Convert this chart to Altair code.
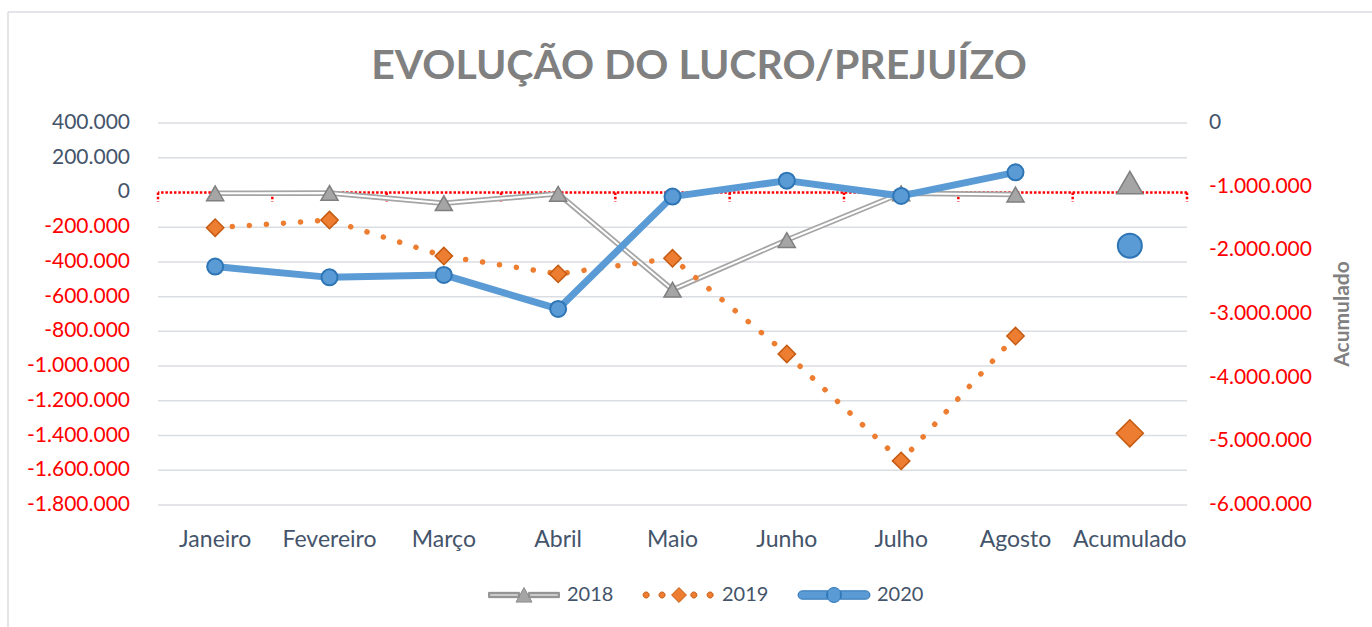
import altair as alt
import pandas as pd
import numpy as np

# ---------------- data ----------------
meses = ["Janeiro", "Fevereiro", "Março", "Abril", "Maio", "Junho", "Julho", "Agosto"]
categorias = meses + ["Acumulado"]
series = ["2018", "2019", "2020"]

lucro_2018 = [-5000, -3000, -62000, -8000, -560000, -274000, -5000, -12000]
lucro_2019 = [-203000, -159000, -366000, -469000, -379000, -930000, -1546000, -827000]
lucro_2020 = [-427000, -489000, -475000, -671000, -24000, 68000, -20000, 116000]
acumulado = [-935000, -4874000, -1927000]   # 2018, 2019, 2020 (right axis)

ticks_esq = [-1800000, -1600000, -1400000, -1200000, -1000000, -800000, -600000,
             -400000, -200000, 0, 200000, 400000]
rotulos_esq = ["-1.800.000", "-1.600.000", "-1.400.000", "-1.200.000", "-1.000.000",
               "-800.000", "-600.000", "-400.000", "-200.000", "0", "200.000", "400.000"]
ticks_dir = [-6000000, -5000000, -4000000, -3000000, -2000000, -1000000, 0]
rotulos_dir = ["-6.000.000", "-5.000.000", "-4.000.000", "-3.000.000", "-2.000.000",
               "-1.000.000", "0"]

titulo = "EVOLUÇÃO DO LUCRO/PREJUÍZO"
titulo_dir = "Acumulado"

df_mes = pd.DataFrame({
    "cat": meses * 3,
    "serie": np.repeat(series, len(meses)),
    "valor": lucro_2018 + lucro_2019 + lucro_2020,
})
df_acum = pd.DataFrame({"cat": ["Acumulado"] * 3, "serie": series, "valor": acumulado})
df_leg = pd.DataFrame({"serie": series})
df_cat = pd.DataFrame({"cat": categorias})
df_one = pd.DataFrame({"cat": ["Acumulado"]})
df_tl = pd.DataFrame({"v": ticks_esq, "lab": rotulos_esq})
df_tr = pd.DataFrame({"v": ticks_dir, "lab": rotulos_dir})

# ---------------- style ----------------
FONT = "Lato"
SLATE = "#44546A"
RED = "#FF0000"
GRID = "#DADDE2"
W, H = 1029, 382
PAD = {"left": 158, "top": 123, "right": 1372 - 158 - W, "bottom": 627 - 123 - H}
STEP = W / len(categorias)

xscale = alt.Scale(type="band", domain=categorias, paddingInner=0, paddingOuter=0)
yscale_l = alt.Scale(domain=[-1800000, 400000], nice=False, zero=False)
yscale_r = alt.Scale(domain=[-6000000, 0], nice=False, zero=False)


def xenc():
    return alt.X("cat:N", scale=xscale, bandPosition=0.5, axis=None, title=None)


def yl(field="valor"):
    return alt.Y(f"{field}:Q", scale=yscale_l, axis=None, title=None)


def yr(field="valor"):
    return alt.Y(f"{field}:Q", scale=yscale_r, axis=None, title=None)


neg_red = alt.condition("datum.v < 0", alt.value(RED), alt.value(SLATE))

# ---------------- guides drawn from the tick arrays ----------------
grid = alt.Chart(df_tl).transform_filter("datum.v != 0").mark_rule(
    color=GRID, strokeWidth=1.5).encode(y=yl("v"))
lab_l = alt.Chart(df_tl).mark_text(align="right", baseline="middle", font=FONT,
                                   fontSize=21).encode(
    x=alt.value(-28), y=yl("v"), text="lab:N", color=neg_red)
lab_x = alt.Chart(df_cat).mark_text(align="center", baseline="middle", font=FONT,
                                    fontSize=23, color=SLATE).encode(
    x=xenc(), y=alt.value(H + 35), text="cat:N")
title_mark = alt.Chart(df_one).mark_text(align="center", baseline="alphabetic", font=FONT,
                                         fontSize=41, fontWeight="bold", color="#808080").encode(
    x=alt.value(699 - PAD["left"]), y=alt.value(79 - PAD["top"]), text=alt.value(titulo))
border_v = alt.Chart(df_one).mark_rule(color=GRID, strokeWidth=1.5).encode(
    x=alt.value(8 - PAD["left"]), y=alt.value(12 - PAD["top"]), y2=alt.value(H + 140))
border_h = alt.Chart(df_one).mark_rule(color=GRID, strokeWidth=1.5).encode(
    x=alt.value(8 - PAD["left"]), x2=alt.value(W + 240), y=alt.value(12 - PAD["top"]))

zero_line = alt.Chart(df_one).mark_rule(color=RED, strokeWidth=2.5,
                                        strokeDash=[2.5, 1.8]).encode(
    y=alt.Y(datum=0, type="quantitative", scale=yscale_l, axis=None))
zero_ticks = alt.Chart(df_cat).mark_rule(color=RED, strokeWidth=2.5, strokeDash=[2.5, 1.8],
                                         xOffset=-STEP / 2, y2Offset=9).encode(
    x=xenc(), y=alt.Y(datum=0, type="quantitative", scale=yscale_l, axis=None),
    y2=alt.datum(0))
zero_tick_end = alt.Chart(df_one).mark_rule(color=RED, strokeWidth=2.5, strokeDash=[2.5, 1.8],
                                            xOffset=STEP / 2, y2Offset=9).encode(
    x=xenc(), y=alt.Y(datum=0, type="quantitative", scale=yscale_l, axis=None),
    y2=alt.datum(0))

# ---------------- series ----------------
base_m = alt.Chart(df_mes)


def serie(s):
    return base_m.transform_filter(alt.datum.serie == s)


l18a = serie("2018").mark_line(color="#A5A5A5", strokeWidth=5.5).encode(x=xenc(), y=yl())
l18b = serie("2018").mark_line(color="white", strokeWidth=2).encode(x=xenc(), y=yl())
p18 = serie("2018").mark_point(shape="triangle-up", filled=True, fill="#A5A5A5",
                               stroke="#7F7F7F", strokeWidth=1.5, size=290, opacity=1
                               ).encode(x=xenc(), y=yl())
l19 = serie("2019").mark_line(color="#ED7D31", strokeWidth=5.5, strokeDash=[0.1, 17],
                              strokeCap="round").encode(x=xenc(), y=yl())
p19 = serie("2019").mark_point(shape="diamond", filled=True, fill="#ED7D31",
                               stroke="#C55A11", strokeWidth=1.5, size=300, opacity=1
                               ).encode(x=xenc(), y=yl())
l20 = serie("2020").mark_line(color="#5B9BD5", strokeWidth=7, strokeJoin="round",
                              strokeCap="round").encode(x=xenc(), y=yl())
p20 = serie("2020").mark_point(shape="circle", filled=True, fill="#5B9BD5",
                               stroke="#2E75B6", strokeWidth=2, size=256, opacity=1
                               ).encode(x=xenc(), y=yl())


# ---------------- legend symbols (custom unit paths) ----------------
def poly(pts):
    return "M" + " L".join(f"{x:.3f},{y:.3f}" for x, y in pts) + " Z"


def circle(cx, cy, r, n=20):
    a = np.linspace(0, 2 * np.pi, n, endpoint=False)
    return poly(list(zip(cx + r * np.cos(a), cy + r * np.sin(a))))


def stadium(x0, x1, h, left_round=True, right_round=True, n=8):
    pts = [(x0, -h), (x1, -h)]
    if right_round:
        a = np.linspace(-np.pi / 2, np.pi / 2, n)
        pts += list(zip(x1 + h * np.cos(a), h * np.sin(a)))
    pts += [(x1, h), (x0, h)]
    if left_round:
        a = np.linspace(np.pi / 2, 3 * np.pi / 2, n)
        pts += list(zip(x0 + h * np.cos(a), h * np.sin(a)))
    return poly(pts)


sym_2018 = " ".join([
    "M-1,-0.075 L-0.13,-0.075 L-0.13,0.075 L-1,0.075 Z",
    "M-0.97,-0.03 L-0.97,0.03 L-0.16,0.03 L-0.16,-0.03 Z",
    "M0.13,-0.075 L1,-0.075 L1,0.075 L0.13,0.075 Z",
    "M0.16,-0.03 L0.16,0.03 L0.97,0.03 L0.97,-0.03 Z",
    "M0,-0.21 L0.226,0.2 L-0.226,0.2 Z",
])
sym_2019 = " ".join([
    circle(-0.93, 0, 0.085), circle(-0.48, 0, 0.085),
    circle(0.42, 0, 0.085), circle(0.88, 0, 0.085),
    "M-0.21,0 L0,-0.21 L0.21,0 L0,0.21 Z",
])
sym_2020 = " ".join([
    stadium(-0.9, -0.18, 0.118, True, False),
    stadium(0.18, 0.9, 0.118, False, True),
    circle(0, 0, 0.21, 24),
])

leg = alt.Legend(title=None, orient="none", legendX=330, legendY=436, direction="horizontal",
                 columns=3, symbolSize=5000, symbolStrokeWidth=1, labelFont=FONT,
                 labelFontSize=20, labelColor=SLATE, labelOffset=7, columnPadding=27,
                 padding=0)
legend_layer = alt.Chart(df_leg).transform_filter("false").mark_point(
    filled=True, opacity=1).encode(
    fill=alt.Fill("serie:N", scale=alt.Scale(domain=series,
                                             range=["#A5A5A5", "#ED7D31", "#5B9BD5"]),
                  legend=leg),
    stroke=alt.Stroke("serie:N", scale=alt.Scale(domain=series,
                                                 range=["#8C8C8C", "#C55A11", "#2E75B6"]),
                      legend=leg),
    shape=alt.Shape("serie:N", scale=alt.Scale(domain=series,
                                               range=[sym_2018, sym_2019, sym_2020]),
                    legend=leg),
)

left = alt.layer(border_v, border_h, title_mark, grid, lab_l, lab_x, zero_line, zero_ticks,
                 zero_tick_end, l18a, l18b, p18, l19, p19, l20, p20, legend_layer)

# ---------------- right (Acumulado) scale ----------------
lab_r = alt.Chart(df_tr).mark_text(align="left", baseline="middle", font=FONT,
                                   fontSize=21).encode(
    x=alt.value(W + 22), y=yr("v"), text="lab:N", color=neg_red)
title_r = alt.Chart(df_one).mark_text(align="center", baseline="middle", font=FONT,
                                      fontSize=21, fontWeight="bold", color="#808080",
                                      angle=270).encode(
    x=alt.value(W + 156), y=alt.value(H / 2), text=alt.value(titulo_dir))

base_a = alt.Chart(df_acum)
a18 = base_a.transform_filter(alt.datum.serie == "2018").mark_point(
    shape="triangle-up", filled=True, fill="#A5A5A5", stroke="#7F7F7F",
    strokeWidth=1.5, size=676, opacity=1).encode(x=xenc(), y=yr())
a19 = base_a.transform_filter(alt.datum.serie == "2019").mark_point(
    shape="diamond", filled=True, fill="#ED7D31", stroke="#C55A11",
    strokeWidth=1.5, size=730, opacity=1).encode(x=xenc(), y=yr())
a20 = base_a.transform_filter(alt.datum.serie == "2020").mark_point(
    shape="circle", filled=True, fill="#5B9BD5", stroke="#2E75B6",
    strokeWidth=2, size=576, opacity=1).encode(x=xenc(), y=yr())
right = alt.layer(lab_r, title_r, a18, a19, a20)

chart = alt.layer(left, right).resolve_scale(y="independent").properties(
    width=W, height=H,
    autosize=alt.AutoSizeParams(type="none"),
    padding=PAD,
).configure(background="white").configure_view(stroke=None)

chart.save("out.html", embed_options={"renderer": "svg", "actions": False})
